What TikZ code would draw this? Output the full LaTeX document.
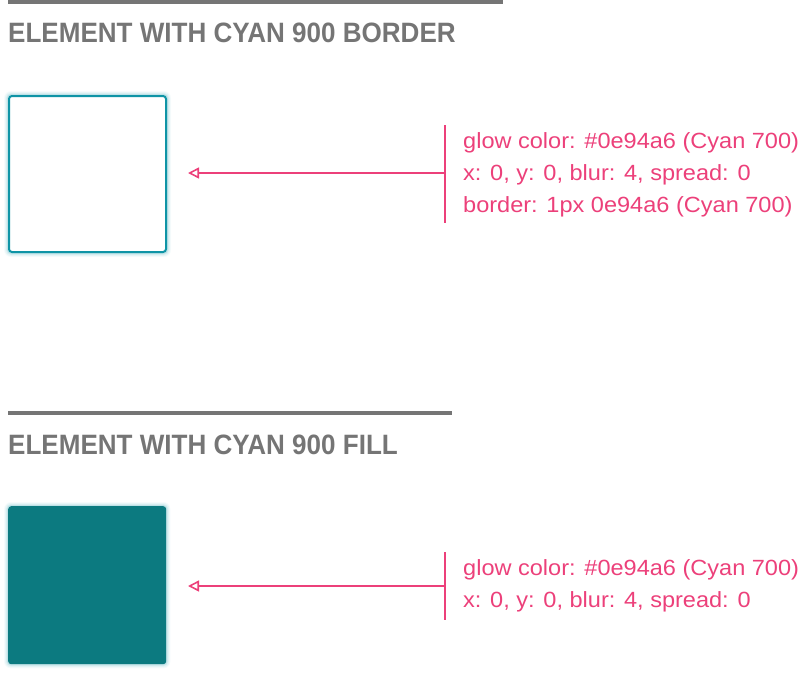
\documentclass[tikz,border=0pt]{standalone}
\usepackage{fontspec}
\setmainfont{Liberation Sans}
\newfontfamily\headfont[FakeStretch=0.93]{Liberation Sans}
\newfontfamily\notefont[FakeStretch=1.07]{Liberation Sans}
\usetikzlibrary{arrows.meta,positioning,backgrounds}
\definecolor{glowcyan}{HTML}{0E94A6}
\definecolor{fillcyan}{HTML}{0C7A80}
\definecolor{notepink}{HTML}{EC407A}
\definecolor{rulegray}{HTML}{757575}
\begin{document}
\begin{tikzpicture}[x=1pt, y=-1pt,
    title/.style={anchor=base west, inner sep=0pt, text=rulegray, font=\headfont\bfseries\fontsize{28}{28}\selectfont},
    note/.style={anchor=base west, inner sep=0pt, align=left, text=notepink, font=\notefont\fontsize{22}{32}\selectfont},
    rulebar/.style={draw=rulegray, line width=4pt},
    swatch/.style={minimum width=157pt, minimum height=156pt, inner sep=0pt, rounded corners=3pt, anchor=north west},
    pointer/.style={draw=notepink, line width=1.6pt, -{Triangle[open, length=11pt, width=11pt, line width=1.6pt]}},
    tickbar/.style={draw=notepink, line width=2pt},
  ]
  \useasboundingbox (0,0) rectangle (800,672);

  % first section: border
  \draw[rulebar] (8,2) -- (503,2);
  \node[title] (head1) at (8,42.5) {ELEMENT WITH CYAN 900 BORDER};
  \node[swatch, draw=glowcyan, line width=2pt, fill=white] (box1) at (8,95) {};
  \node[note] (note1) at (463,212) {glow color: \#0e94a6 (Cyan 700)\\x: 0, y: 0, blur: 4, spread: 0\\border: 1px 0e94a6 (Cyan 700)};
  \coordinate (mark1) at (445,173);
  \coordinate (tip1) at (188,173);
  \draw[tickbar] (445,125) -- (445,223);
  \draw[pointer] (mark1) -- (tip1);

  % second section: fill
  \draw[rulebar] (8,413) -- (452,413);
  \node[title] (head2) at (8,454) {ELEMENT WITH CYAN 900 FILL};
  \node[swatch, minimum width=158pt, minimum height=158pt, fill=fillcyan] (box2) at (8,506) {};
  \node[note] (note2) at (463,607) {glow color: \#0e94a6 (Cyan 700)\\x: 0, y: 0, blur: 4, spread: 0};
  \coordinate (mark2) at (445,586);
  \coordinate (tip2) at (188,586);
  \draw[tickbar] (445,552) -- (445,620);
  \draw[pointer] (mark2) -- (tip2);

  % glow behind both swatches
  \begin{scope}[on background layer]
    \foreach \b in {box1,box2}
      \foreach \g/\o in {4/0.04,3/0.06,2/0.08,1/0.12}
        \fill[glowcyan, opacity=\o, rounded corners=3pt+\g pt]
          ([shift={(-\g,-\g)}]\b.north west) rectangle ([shift={(\g,\g)}]\b.south east);
  \end{scope}
\end{tikzpicture}
\end{document}
